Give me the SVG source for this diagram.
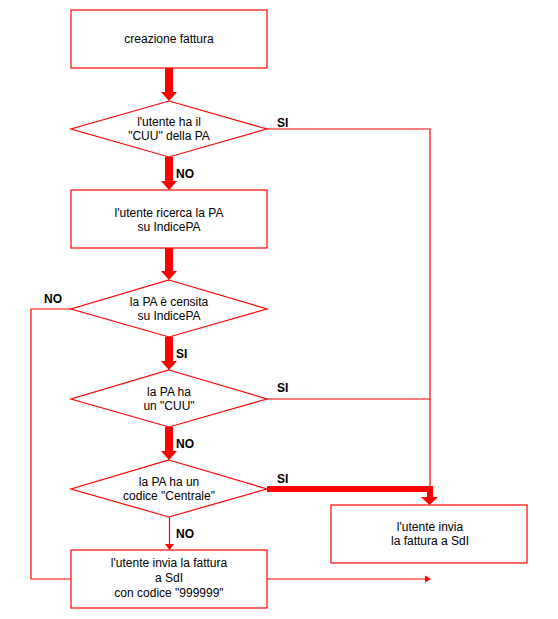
<svg xmlns="http://www.w3.org/2000/svg" width="558" height="619" viewBox="0 0 558 619">
<style>
.box{fill:#fff;stroke:#ff0000;stroke-width:1.2}
.t{font-family:"Liberation Sans",Arial,sans-serif;font-size:12px;fill:#000;text-anchor:middle}
.l{font-family:"Liberation Sans",Arial,sans-serif;font-size:12px;font-weight:bold;fill:#000}
.ln{fill:none;stroke:#ff0000;stroke-width:1.2}
.ar{fill:#ff0000;stroke:none}
</style>
<rect width="558" height="619" fill="#fff"/>
<g id="connectors">
  <!-- thick arrows down -->
  <polygon class="ar" points="165,68 173,68 173,92 177,92 169,101 161,92 165,92"/>
  <polygon class="ar" points="165,157 173,157 173,181 177,181 169,190 161,181 165,181"/>
  <polygon class="ar" points="165,248 173,248 173,271 177,271 169,280 161,271 165,271"/>
  <polygon class="ar" points="165,337 173,337 173,361 177,361 169,370 161,361 165,361"/>
  <polygon class="ar" points="165,427 173,427 173,451 177,451 169,460 161,451 165,451"/>
  <!-- thin arrow down to last box -->
  <line class="ln" x1="169.5" y1="517" x2="169.5" y2="545"/>
  <polygon class="ar" points="165,544 174,544 169.5,550"/>
  <!-- SI branches -->
  <polyline class="ln" points="267,129 430,129 430,497"/>
  <line class="ln" x1="267" y1="399" x2="430" y2="399"/>
  <polygon class="ar" points="267,486 433,486 433,497 438,497 429.5,505 421,497 427,497 427,492 267,492"/>
  <!-- NO branch -->
  <polyline class="ln" points="71,309 31,309 31,579 71,579"/>
  <!-- output arrow -->
  <line class="ln" x1="267" y1="579" x2="426" y2="579"/>
  <polygon class="ar" points="425,575.5 431,579 425,582.5"/>
</g>
<g id="n1">
  <rect class="box" x="71" y="10" width="196" height="58"/>
  <text class="t" x="169" y="43">creazione fattura</text>
</g>
<g id="n2">
  <polygon class="box" points="169,101 267,129 169,157 71,129"/>
  <text class="t" x="169" y="126">l'utente ha il</text>
  <text class="t" x="169" y="140">"CUU" della PA</text>
</g>
<g id="n3">
  <rect class="box" x="71" y="190" width="196" height="58"/>
  <text class="t" x="169" y="217">l'utente ricerca la PA</text>
  <text class="t" x="169" y="231">su IndicePA</text>
</g>
<g id="n4">
  <polygon class="box" points="169,280 267,309 169,337 71,309"/>
  <text class="t" x="169" y="306">la PA è censita</text>
  <text class="t" x="169" y="320">su IndicePA</text>
</g>
<g id="n5">
  <polygon class="box" points="169,370 267,399 169,427 71,399"/>
  <text class="t" x="169" y="396">la PA ha</text>
  <text class="t" x="169" y="410">un "CUU"</text>
</g>
<g id="n6">
  <polygon class="box" points="169,460 267,489 169,517 71,489"/>
  <text class="t" x="169" y="486">la PA ha un</text>
  <text class="t" x="169" y="500">codice "Centrale"</text>
</g>
<g id="n7">
  <rect class="box" x="331" y="505" width="196" height="58"/>
  <text class="t" x="430" y="531">l'utente invia</text>
  <text class="t" x="430" y="545">la fattura a SdI</text>
</g>
<g id="n8">
  <rect class="box" x="71" y="550" width="196" height="58"/>
  <text class="t" x="169" y="567">l'utente invia la fattura</text>
  <text class="t" x="169" y="582">a SdI</text>
  <text class="t" x="169" y="597">con codice "999999"</text>
</g>
<g id="labels">
  <text class="l" x="277" y="127">SI</text>
  <text class="l" x="176" y="178">NO</text>
  <text class="l" x="44" y="303">NO</text>
  <text class="l" x="176" y="358">SI</text>
  <text class="l" x="277" y="392">SI</text>
  <text class="l" x="176" y="448">NO</text>
  <text class="l" x="277" y="483">SI</text>
  <text class="l" x="176" y="538">NO</text>
</g>
</svg>
